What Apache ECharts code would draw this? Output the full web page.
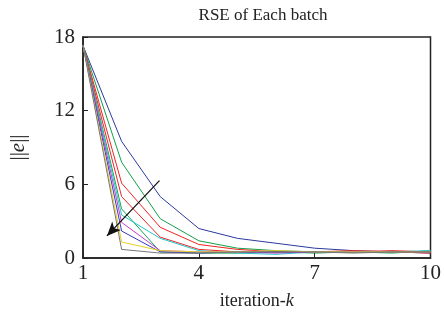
<!DOCTYPE html>
<html>
<head>
<meta charset="utf-8">
<script src="https://cdn.jsdelivr.net/npm/echarts@6/dist/echarts.min.js"></script>
<style>
  html, body { margin: 0; padding: 0; background: #fff; }
  #chart { width: 444px; height: 323px; }
</style>
</head>
<body>
<div id="chart"></div>
<script>
// iterations 1..10
const iterations = [1, 2, 3, 4, 5, 6, 7, 8, 9, 10];
const xTicks = [1, 4, 7, 10];
const yTicks = [0, 6, 12, 18];

// one curve per batch
const batch1 = [17.3, 9.5, 5.0, 2.4, 1.6, 1.2, 0.8, 0.6, 0.5, 0.4];
const batch2 = [17.3, 7.8, 3.2, 1.4, 0.8, 0.6, 0.5, 0.5, 0.5, 0.5];
const batch3 = [17.3, 6.1, 2.5, 1.1, 0.7, 0.5, 0.5, 0.6, 0.5, 0.4];
const batch4 = [17.3, 5.0, 1.7, 0.7, 0.5, 0.5, 0.5, 0.5, 0.6, 0.5];
const batch5 = [17.3, 4.0, 0.5, 0.4, 0.4, 0.5, 0.4, 0.5, 0.4, 0.6];
const batch6 = [17.3, 3.5, 1.6, 0.6, 0.4, 0.3, 0.5, 0.5, 0.5, 0.6];
const batch7 = [17.3, 2.9, 0.6, 0.5, 0.5, 0.4, 0.5, 0.5, 0.5, 0.5];
const batch8 = [17.3, 2.2, 0.5, 0.4, 0.5, 0.5, 0.5, 0.5, 0.5, 0.5];
const batch9 = [17.3, 1.3, 0.6, 0.5, 0.5, 0.6, 0.5, 0.5, 0.5, 0.5];
const batch10 = [17.3, 0.7, 0.4, 0.4, 0.5, 0.5, 0.5, 0.4, 0.5, 0.5];

const batches = [batch1, batch2, batch3, batch4, batch5, batch6, batch7, batch8, batch9, batch10];
const colors = ['#2b3a9e', '#13a04a', '#ee2424', '#e8262a', '#16a35a',
                '#22c8c8', '#c63cc8', '#3a3ac0', '#e8d020', '#777777'];

// arrow annotation, in data units: tail then head
const arrowFrom = [2.98, 6.3];
const arrowTo = [1.62, 1.8];

const font = '"Liberation Serif", "Times New Roman", serif';
const chart = echarts.init(document.getElementById('chart'));

const series = batches.map((vals, i) => ({
    type: 'line',
    data: vals.map((v, j) => [iterations[j], v]),
    symbol: 'none',
    lineStyle: { width: 1, color: colors[i] },
    itemStyle: { color: colors[i] },
    z: 2
}));
series[0].markLine = {
    silent: true,
    symbol: ['none', 'arrow'],
    symbolSize: [9, 14],
    label: { show: false },
    lineStyle: { color: '#111', width: 1.3, type: 'solid' },
    data: [[{ coord: arrowFrom }, { coord: arrowTo }]]
};

chart.setOption({
    animation: false,
    title: {
        text: 'RSE of Each batch',
        left: 258,
        top: 2,
        textAlign: 'center',
        textStyle: { fontFamily: font, fontSize: 17, fontWeight: 'normal', color: '#222' }
    },
    grid: {
        left: 83, right: 12, top: 37, bottom: 65,
        show: true, borderColor: '#222', borderWidth: 1.5, backgroundColor: 'transparent'
    },
    xAxis: {
        type: 'value',
        min: xTicks[0], max: xTicks[xTicks.length - 1], interval: 3,
        name: 'iteration-{i|k}',
        nameLocation: 'middle',
        nameGap: 34,
        nameTextStyle: {
            fontFamily: font, fontSize: 18, color: '#222',
            rich: { i: { fontFamily: font, fontSize: 18, fontStyle: 'italic', color: '#222' } }
        },
        axisLine: { lineStyle: { color: '#222', width: 1.5 } },
        axisTick: { inside: true, length: 5, lineStyle: { color: '#222' } },
        axisLabel: { fontFamily: font, fontSize: 21, color: '#222', margin: 5 },
        splitLine: { show: false }
    },
    yAxis: {
        type: 'value',
        min: yTicks[0], max: yTicks[yTicks.length - 1], interval: 6,
        name: '||{i|e}||',
        nameLocation: 'middle',
        nameRotate: 90,
        nameGap: 54,
        nameTextStyle: {
            fontFamily: font, fontSize: 21, color: '#222',
            rich: { i: { fontFamily: font, fontSize: 21, fontStyle: 'italic', color: '#222' } }
        },
        axisLine: { show: true, lineStyle: { color: '#222', width: 1.5 } },
        axisTick: { inside: true, length: 5, lineStyle: { color: '#222' } },
        axisLabel: { fontFamily: font, fontSize: 21, color: '#222', margin: 8 },
        splitLine: { show: false }
    },
    series: series
});
</script>
</body>
</html>
